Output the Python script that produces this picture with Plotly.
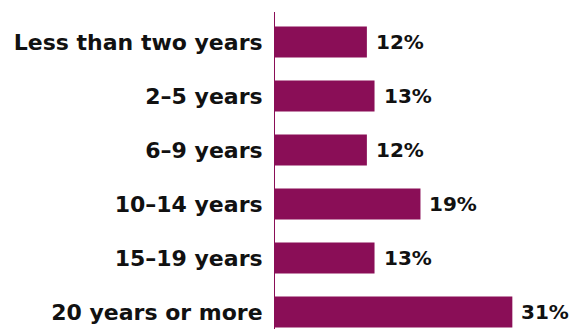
import plotly.graph_objects as go

categories = ["Less than two years", "2–5 years", "6–9 years", "10–14 years", "15–19 years", "20 years or more"]
values = [12, 13, 12, 19, 13, 31]
labels = ["12%", "13%", "12%", "19%", "13%", "31%"]

BAR = "#8A0E57"
TXT = "#111111"
FONT = "DejaVu Sans"

fig = go.Figure(go.Bar(
    x=values, y=categories, orientation="h",
    marker=dict(color=BAR, line=dict(width=0)),
    hoverinfo="skip",
))

for v, c, t in zip(values, categories, labels):
    fig.add_annotation(
        x=v, y=c, text=t, showarrow=False, xanchor="left", yanchor="middle",
        xshift=7, font=dict(family=FONT, size=20, color=TXT, weight="bold"),
    )

fig.update_layout(
    width=569, height=329,
    margin=dict(l=275, r=0, t=12, b=0, autoexpand=False),
    paper_bgcolor="white", plot_bgcolor="white",
    bargap=0.426, showlegend=False,
    xaxis=dict(range=[0, 38.4], visible=False, fixedrange=True, automargin=False),
    yaxis=dict(
        categoryorder="array", categoryarray=categories,
        range=[5.315, -0.556], automargin=False, fixedrange=True,
        showline=True, linecolor=BAR, linewidth=1,
        showgrid=False, zeroline=False, ticks="",
        ticklabelstandoff=7,
        tickfont=dict(family=FONT, size=22, color=TXT, weight="bold"),
    ),
)

fig.write_html("out.html", config={"displayModeBar": False},
               post_script="document.body.style.margin='0';")
